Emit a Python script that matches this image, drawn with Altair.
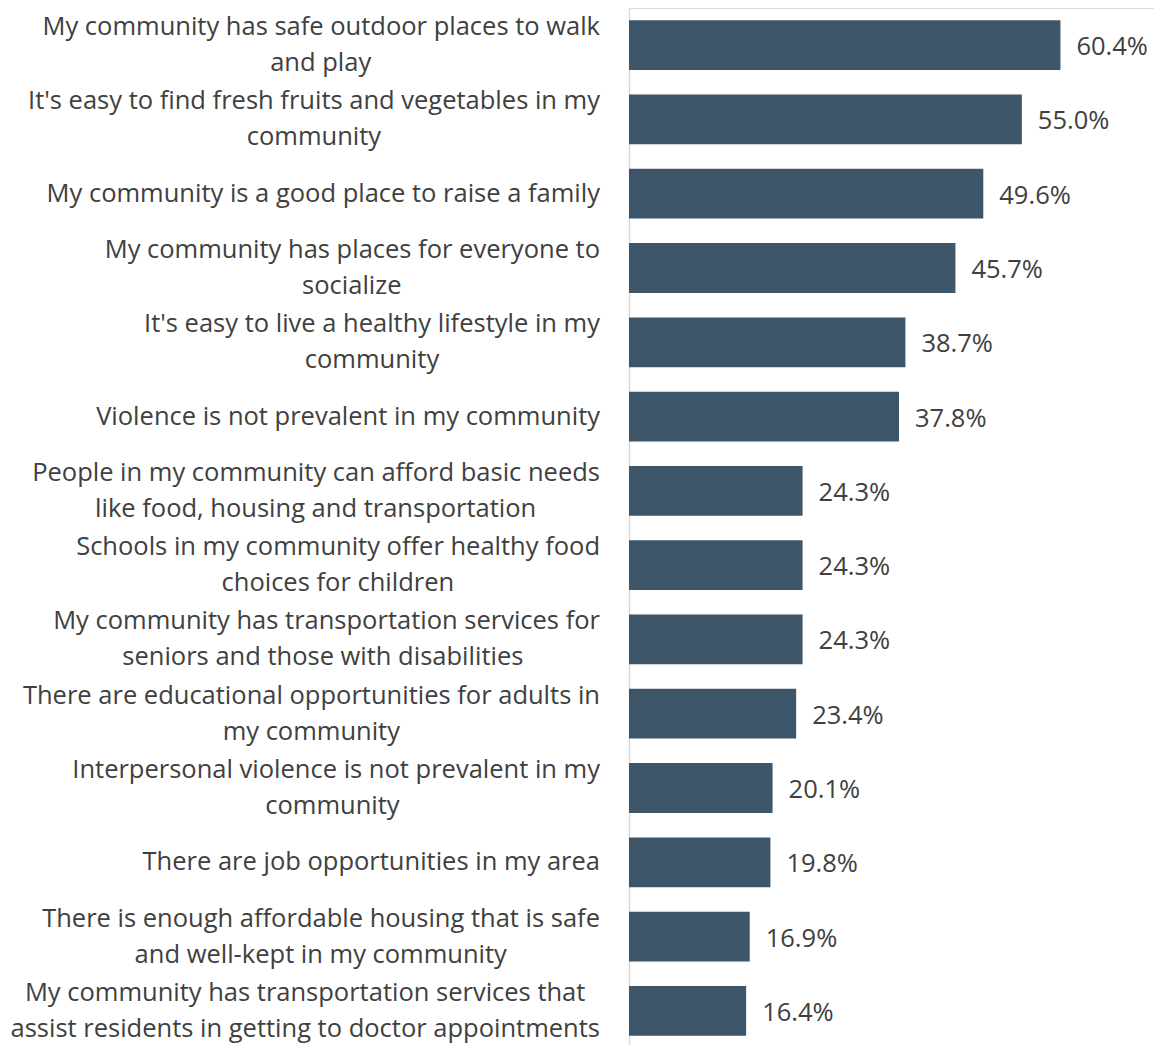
import altair as alt
import pandas as pd

line1 = [
    "My community has safe outdoor places to walk",
    "It's easy to find fresh fruits and vegetables in my",
    "My community is a good place to raise a family",
    "My community has places for everyone to",
    "It's easy to live a healthy lifestyle in my",
    "Violence is not prevalent in my community\u00a0",
    "People in my community can afford basic needs",
    "Schools in my community offer healthy food",
    "My community has transportation services for\u00a0",
    "There are educational opportunities for adults in",
    "Interpersonal violence is not prevalent in my\u00a0",
    "There are job opportunities in my area",
    "There is enough affordable housing that is safe",
    "My community has transportation services that",
]
line2 = [
    "and play",
    "community",
    "",
    "socialize",
    "community",
    "",
    "like food, housing and transportation",
    "choices for children",
    "seniors and those with disabilities",
    "my community",
    "community",
    "",
    "and well-kept in my community",
    "assist residents in getting to doctor appointments",
]
values = [60.4, 55.0, 49.6, 45.7, 38.7, 37.8, 24.3, 24.3, 24.3, 23.4, 20.1, 19.8, 16.9, 16.4]

FONT = "Open Sans"
FS = 25.5
LABEL_GAP = 29
TEXT = "#404040"
BAR = "#3d5669"

# approximate Open Sans advance widths (em)
W = {
    " ": 0.26, "\u00a0": 0.26, "a": 0.556, "b": 0.613, "c": 0.48, "d": 0.613, "e": 0.561, "f": 0.336,
    "g": 0.548, "h": 0.614, "i": 0.253, "j": 0.253, "k": 0.525, "l": 0.253, "m": 0.93,
    "n": 0.614, "o": 0.604, "p": 0.613, "q": 0.613, "r": 0.408, "s": 0.477, "t": 0.353,
    "u": 0.614, "v": 0.501, "w": 0.778, "x": 0.524, "y": 0.502, "z": 0.477,
    "M": 0.917, "I": 0.3, "T": 0.556, "S": 0.536, "V": 0.593, "P": 0.604, "W": 0.909,
    "'": 0.196, ",": 0.25, "-": 0.322, ".": 0.266,
}


def width(s):
    return sum(W.get(ch, 0.56) for ch in s) * FS


rows = []
for i, (a, b, v) in enumerate(zip(line1, line2, values)):
    cat = a + " " + b
    wa, wb = width(a), width(b)
    if b == "":
        kind = "single"
        wide, narrow = a, ""
    elif wa >= wb:
        kind = "top"
        wide, narrow = a, b
    else:
        kind = "bottom"
        wide, narrow = b, a
    cx = -LABEL_GAP - max(wa, wb) / 2
    rows.append(dict(cat=cat, v=v, kind=kind, wide=wide, narrow=narrow, cx=cx, order=i))

df = pd.DataFrame(rows)
order = list(df["cat"])

base = alt.Chart(df)
y = alt.Y("cat:N", sort=order, title=None,
          scale=alt.Scale(paddingInner=0.33, paddingOuter=0.165),
          axis=alt.Axis(labels=False, ticks=False, domainColor="#d9d9d9", domainWidth=1.5, grid=False))

bars = base.mark_bar(color=BAR).encode(
    x=alt.X("v:Q", scale=alt.Scale(domain=[0, 73.5], nice=False), axis=None),
    y=y,
)

vals = base.transform_calculate(lbl="format(datum.v, '.1f') + '%'").mark_text(
    align="left", baseline="middle", dx=16, dy=2, font=FONT, fontSize=FS, color=TEXT
).encode(x="v:Q", y=alt.Y("cat:N", sort=order), text="lbl:N")

def txt(kind, field, dy, align, xenc):
    return base.transform_filter(alt.datum.kind == kind).mark_text(
        align=align, baseline="middle", dy=dy, font=FONT, fontSize=FS, color=TEXT
    ).encode(x=xenc, y=alt.Y("cat:N", sort=order), text=f"{field}:N")

xr = alt.value(-LABEL_GAP)
xc = alt.X("cx:Q", scale=None)
LH = 18
labels = [
    txt("single", "wide", 0, "right", xr),
    txt("top", "wide", -LH, "right", xr),
    txt("top", "narrow", LH, "center", xc),
    txt("bottom", "wide", LH, "right", xr),
    txt("bottom", "narrow", -LH, "center", xc),
]

chart = alt.layer(bars, vals, *labels).properties(
    width=525, height=1040,
    autosize=alt.AutoSizeParams(type="none"),
    padding={"left": 629, "top": 8, "right": 0, "bottom": 0},
).configure_view(stroke=None).configure(background="white")

chart.save("out.html", embed_options={"renderer": "svg", "actions": False})
